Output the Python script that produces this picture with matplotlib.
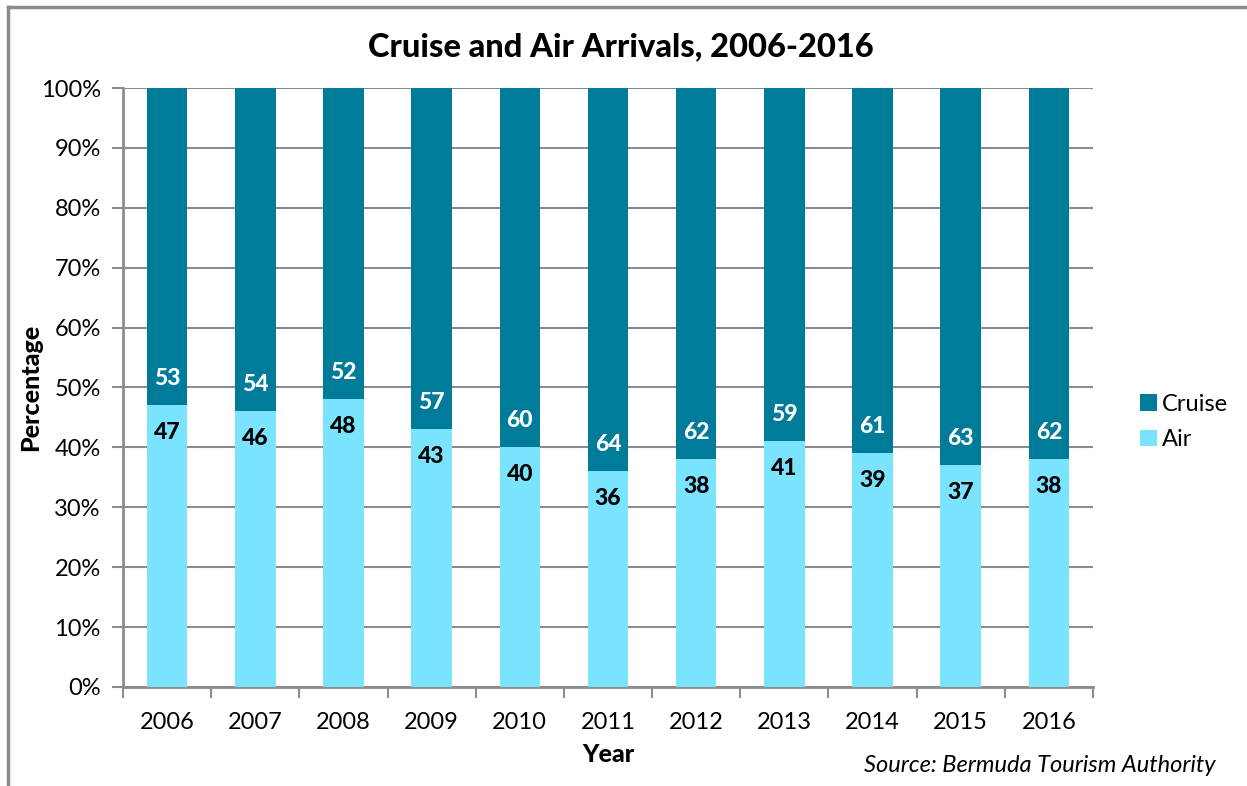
import numpy as np
import matplotlib
matplotlib.use("Agg")
import matplotlib.pyplot as plt
from matplotlib.lines import Line2D

plt.rcParams['font.family'] = ['Lato', 'DejaVu Sans']

# Share of visitor arrivals by mode (%)
years = ['2006', '2007', '2008', '2009', '2010', '2011', '2012', '2013', '2014', '2015', '2016']
air = [47, 46, 48, 43, 40, 36, 38, 41, 39, 37, 38]
cruise = [53, 54, 52, 57, 60, 64, 62, 59, 61, 63, 62]

c_cruise = '#007b9a'
c_air = '#7ae4ff'
grey = '#8c8c8c'

fig = plt.figure(figsize=(12.47, 7.86), dpi=100)
ax = fig.add_axes([0.0986, 0.126, 0.7779, 0.762])

x = np.arange(len(years))
w = 0.46
ax.bar(x, air, w, color=c_air, label='Air', zorder=3)
ax.bar(x, cruise, w, bottom=air, color=c_cruise, label='Cruise', zorder=3)

off = 4.5
for xi, a, c in zip(x, air, cruise):
    ax.text(xi, a - off, str(a), ha='center', va='center', fontsize=16.5,
            fontweight='black', color='black', zorder=4)
    ax.text(xi, a + off, str(c), ha='center', va='center', fontsize=16.5,
            fontweight='black', color='white', zorder=4)

ax.set_xlim(-0.5, len(years) - 0.5)
ax.set_ylim(0, 100)
ax.set_yticks(np.arange(0, 101, 10))
ax.set_yticklabels([f'{v}%' for v in range(0, 101, 10)])
ax.set_xticks(x)
ax.set_xticklabels(years)
ax.set_xticks(np.arange(-0.5, len(years)), minor=True)
ax.tick_params(axis='x', which='major', length=0, pad=18, labelsize=17)
ax.tick_params(axis='x', which='minor', length=8, width=1.5, color=grey)
ax.tick_params(axis='y', which='major', length=8, width=1.5, color=grey, pad=8, labelsize=17)

ax.yaxis.grid(True, color=grey, linewidth=1.5, zorder=0)
for s in ['top', 'right']:
    ax.spines[s].set_visible(False)
for s in ['left', 'bottom']:
    ax.spines[s].set_color(grey)
    ax.spines[s].set_linewidth(2)

ax.set_xlabel('Year', fontsize=18, fontweight='black', labelpad=7)
ax.set_ylabel('Percentage', fontsize=18, fontweight='black', labelpad=-1)

fig.text(0.4975, 0.94, 'Cruise and Air Arrivals, 2006-2016', ha='center', va='center',
         fontsize=23.5, fontweight='black')
fig.text(0.975, 0.026, 'Source: Bermuda Tourism Authority', ha='right', va='center',
         fontsize=17, style='italic')

handles, labels = ax.get_legend_handles_labels()
fig.legend(handles[::-1], labels[::-1], loc='center left', bbox_to_anchor=(0.905, 0.463),
           frameon=False, fontsize=17, handlelength=0.7, handleheight=0.7,
           handletextpad=0.2, labelspacing=0.6, borderpad=0)

# outer chart frame
fig.add_artist(Line2D([0.0064, 0.0064], [0, 0.991], color=grey, linewidth=2.5))
fig.add_artist(Line2D([0.0064, 1], [0.991, 0.991], color=grey, linewidth=2.5))

fig.savefig('out.png', dpi=100)
